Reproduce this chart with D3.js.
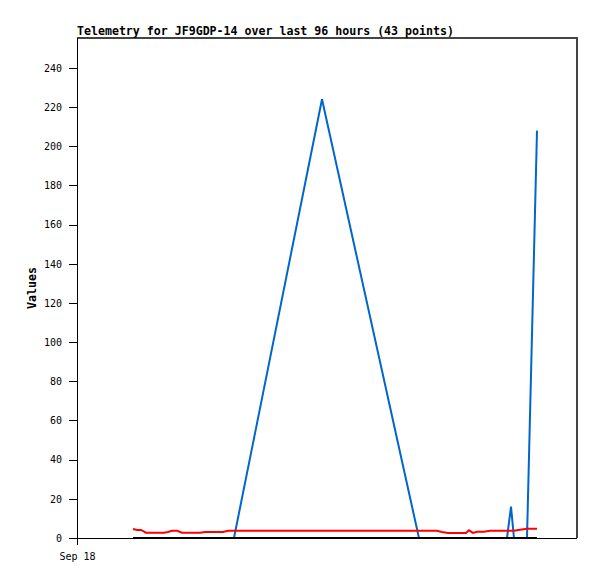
<!DOCTYPE html>
<html><head><meta charset="utf-8">
<script src="https://cdn.jsdelivr.net/npm/d3@7"></script>
<style>body{margin:0;background:#fff}svg{display:block}</style>
</head><body>
<script>
const title = "Telemetry for JF9GDP-14 over last 96 hours (43 points)";
const yLabel = "Values";
const xTickLabels = ["Sep 18"];
const xTickHours = [0];
const yTicks = [0,20,40,60,80,100,120,140,160,180,200,220,240];
// hours since Sep 18 00:00
const hours = [10.75,11.52,12.29,13.25,14.40,15.55,16.70,17.47,18.24,19.20,20.16,21.31,22.46,23.62,24.58,25.73,26.88,28.03,28.99,30.14,
  47.04,
  65.66,66.82,67.97,69.12,70.08,71.23,72.58,73.92,74.69,75.26,76.03,76.80,78.14,79.30,80.64,81.79,82.56,83.33,83.90,85.06,86.40,88.32];
const blueVals = [0,0,0,0,0,0,0,0,0,0,0,0,0,0,0,0,0,0,0,0,
  224,
  0,0,0,0,0,0,0,0,0,0,0,0,0,0,0,0,0,16,0,0,0,208];
const redVals = [4.6,4.1,4.1,2.7,2.7,2.7,2.7,3.1,3.7,3.7,2.7,2.7,2.7,2.7,3.1,3.1,3.1,3.1,3.7,3.7,
  3.7,
  3.7,3.7,3.7,3.7,3.1,2.6,2.6,2.6,2.6,3.9,2.6,3.2,3.2,3.7,3.7,3.7,3.7,3.7,3.7,4.2,4.7,4.7];
const blackVals = hours.map(() => 0);

const W = 597, H = 579;
const m = {l:77, t:38, r:577, b:538};
const svg = d3.select("body").append("svg").attr("width",W).attr("height",H);
const x = d3.scaleLinear().domain([0,96]).range([m.l,m.r]);
const y = d3.scaleLinear().domain([0,255.3]).range([m.b,m.t]);
const font = "'DejaVu Sans Mono', monospace";

// frame
svg.append("path").attr("d",`M${m.l},${m.t}H${m.r}V${m.b}`).attr("fill","none")
  .attr("stroke","#444").attr("stroke-width",1.2).attr("shape-rendering","crispEdges");

// y axis
const ya = svg.append("g").attr("transform",`translate(${m.l},0)`)
  .call(d3.axisLeft(y).tickValues(yTicks).tickSize(8).tickPadding(7));
ya.select(".domain").remove();
ya.selectAll("line").attr("stroke","#000").attr("shape-rendering","crispEdges");
ya.selectAll("text").attr("font-family",font).attr("font-size","10px").attr("fill","#000");
svg.append("line").attr("x1",m.l+0.5).attr("x2",m.l+0.5).attr("y1",m.t).attr("y2",m.b+7).attr("stroke","#000");

// x axis
const xa = svg.append("g").attr("transform",`translate(0,${m.b})`)
  .call(d3.axisBottom(x).tickValues(xTickHours).tickFormat((d,i)=>xTickLabels[i]).tickSize(7).tickPadding(8));
xa.select(".domain").remove();
xa.selectAll("line").remove();
xa.selectAll("text").attr("font-family",font).attr("font-size","10px").attr("fill","#000");
svg.append("line").attr("x1",m.l-8).attr("x2",m.r).attr("y1",m.b+0.5).attr("y2",m.b+0.5).attr("stroke","#000");

const line = d3.line().x((d,i)=>x(hours[i])).y(d=>y(d));
const series = [[blueVals,"#0066cc"],[redVals,"#ff0000"],[blackVals,"#000000"]];
series.forEach(([vals,c]) => {
  svg.append("path").attr("d",line(vals)).attr("fill","none").attr("stroke",c).attr("stroke-width",2);
});

svg.append("text").attr("x",m.l).attr("y",35).attr("font-family",font).attr("font-weight","bold")
  .attr("font-size","11.6px").text(title);
svg.append("text").attr("transform",`translate(36,${(m.t+m.b)/2}) rotate(-90)`).attr("text-anchor","middle")
  .attr("font-family",font).attr("font-weight","bold").attr("font-size","11.6px").text(yLabel);
</script>
</body></html>
